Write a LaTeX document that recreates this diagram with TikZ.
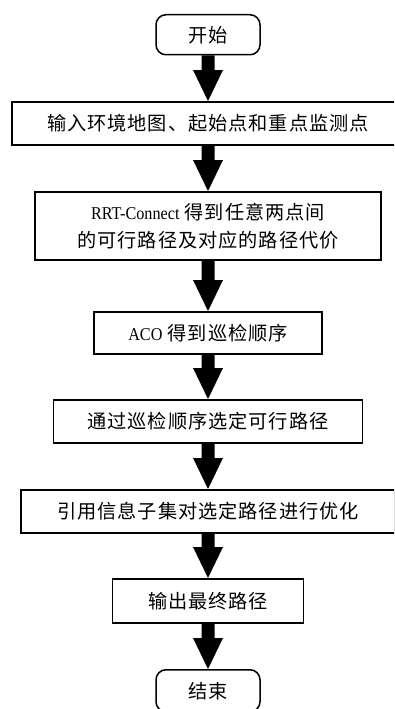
\documentclass[tikz,border=0pt]{standalone}
\usepackage{fontspec}
\setmainfont{Liberation Serif}
\newfontfamily\cjk[LetterSpace=5]{Noto Sans CJK SC}
\newfontfamily\lat[FakeStretch=0.9]{Liberation Serif}
\usetikzlibrary{calc}
\newcommand{\fatarrow}[2]{%
  \fill ($(#1.south)+(-6.5,0)$) -- ($(#1.south)+(6.5,0)$) --
        ($(#2.north)+(6.5,-31)$) -- ($(#2.north)+(15,-31)$) -- (#2.north) --
        ($(#2.north)+(-15,-31)$) -- ($(#2.north)+(-6.5,-31)$) -- cycle;}
\newcommand{\latxt}[1]{{\lat\fontsize{18}{28}\selectfont #1}}
\begin{document}
\begin{tikzpicture}[x=1pt,y=-1pt,
  box/.style={draw, line width=1.5pt, inner sep=0pt, anchor=north, align=center,
              font=\cjk\fontsize{19.2}{28}\selectfont},
  term/.style={box, rounded corners=10pt}]
\useasboundingbox (0,0) rectangle (394,709);
\fill[white] (0,0) rectangle (394,709);
\clip (0,0) rectangle (394,709);

\node[term, minimum width=104pt, minimum height=40pt] (s) at (208,14) {开始};
\node[box, minimum width=392pt, minimum height=43pt] (n2) at (208,101) {输入环境地图、起始点和重点监测点};
\node[box, minimum width=346pt, minimum height=68pt] (n3) at (208,191)
  {\latxt{RRT-Connect} 得到任意两点间\\的可行路径及对应的路径代价};
\node[box, minimum width=228pt, minimum height=42pt] (n4) at (208,311)
  {\latxt{ACO} 得到巡检顺序};
\node[box, minimum width=309pt, minimum height=43pt] (n5) at (208,399) {通过巡检顺序选定可行路径};
\node[box, minimum width=374pt, minimum height=43pt] (n6) at (208,489) {引用信息子集对选定路径进行优化};
\node[box, minimum width=191pt, minimum height=44pt] (n7) at (208,578) {输出最终路径};
\node[term, minimum width=104pt, minimum height=42pt] (e) at (208,669) {结束};

\fatarrow{s}{n2}
\fatarrow{n2}{n3}
\fatarrow{n3}{n4}
\fatarrow{n4}{n5}
\fatarrow{n5}{n6}
\fatarrow{n6}{n7}
\fatarrow{n7}{e}
\end{tikzpicture}
\end{document}
